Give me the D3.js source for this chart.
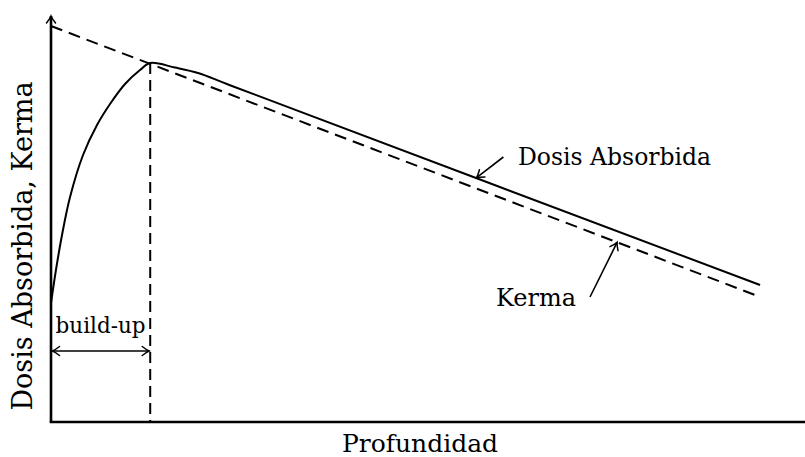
<!DOCTYPE html>
<html>
<head>
<meta charset="utf-8">
<script src="https://cdn.jsdelivr.net/npm/d3@7"></script>
<style>
  html, body { margin: 0; padding: 0; background: #fff; }
  svg { display: block; }
  text { font-family: "DejaVu Serif", "Liberation Serif", serif; fill: #000; }
</style>
</head>
<body>
<svg id="chart" width="805" height="457"></svg>
<script>
// Depth (arbitrary units) and relative dose / kerma values
const doseDepth = [0, 0.05, 0.111, 0.192, 0.323, 0.464, 0.595, 0.746, 0.897, 1.0, 1.25, 1.482, 1.804, 7.147];
const doseValue = [29.75, 38, 46.75, 56.25, 66.75, 74.25, 79.5, 84.5, 88, 89.75, 88.6, 87.25, 84.2, 34.25];
const kermaDepth = [0, 7.15];
const kermaValue = [99, 31.25];

// Depth of maximum dose (end of build-up region)
const buildUpDepth = 1.0;
const buildUpPeak = 89.75;

// Annotation anchors: [depth, value]
const doseArrow = { from: [4.56, 66.25], to: [4.29, 61.1] };
const kermaArrow = { from: [5.433, 31.25], to: [5.706, 44.9] };
const doseLabel = { text: "Dosis Absorbida", at: [4.707, 64.25] };
const kermaLabel = { text: "Kerma", at: [4.486, 29] };
const buildUpLabel = { text: "build-up", level: 17.75, textLevel: 22.25 };
const xTitle = "Profundidad";
const yTitle = "Dosis Absorbida, Kerma";

const svg = d3.select("#chart");
const x = d3.scaleLinear().domain([0, 7.6]).range([51, 805]);
const y = d3.scaleLinear().domain([0, 100]).range([422, 22]);

// Arrowhead in the style of a thin open "to" tip
const defs = svg.append("defs");
defs.append("marker")
  .attr("id", "tip")
  .attr("viewBox", "-10 -6 12 12")
  .attr("refX", 0).attr("refY", 0)
  .attr("markerUnits", "userSpaceOnUse")
  .attr("markerWidth", 12).attr("markerHeight", 12)
  .attr("orient", "auto-start-reverse")
  .append("path")
  .attr("d", "M-7,-4.5 Q-2.5,-1 0,0 Q-2.5,1 -7,4.5")
  .attr("fill", "none").attr("stroke", "#000").attr("stroke-width", 1.5)
  .attr("stroke-linecap", "round");

// Axes
svg.append("line")
  .attr("x1", x(0)).attr("y1", y(0)).attr("x2", x(0)).attr("y2", y(101.5))
  .attr("stroke", "#000").attr("stroke-width", 2.6)
  .attr("marker-end", "url(#tip)");
svg.append("line")
  .attr("x1", x(0) - 1.3).attr("y1", y(0)).attr("x2", x(7.7)).attr("y2", y(0))
  .attr("stroke", "#000").attr("stroke-width", 2.6)
  .attr("marker-end", "url(#tip)");

// Kerma (dashed straight line)
svg.append("path")
  .datum(kermaDepth.map((d, i) => [d, kermaValue[i]]))
  .attr("d", d3.line().x(d => x(d[0])).y(d => y(d[1])))
  .attr("fill", "none").attr("stroke", "#000").attr("stroke-width", 2)
  .attr("stroke-dasharray", "12,7");

// Absorbed dose curve
svg.append("path")
  .datum(doseDepth.map((d, i) => [d, doseValue[i]]))
  .attr("d", d3.line().x(d => x(d[0])).y(d => y(d[1])).curve(d3.curveCatmullRom.alpha(0.5)))
  .attr("fill", "none").attr("stroke", "#000").attr("stroke-width", 2);

// Dashed vertical line at the dose maximum
svg.append("line")
  .attr("x1", x(buildUpDepth)).attr("x2", x(buildUpDepth))
  .attr("y1", y(buildUpPeak)).attr("y2", y(0))
  .attr("stroke", "#000").attr("stroke-width", 2)
  .attr("stroke-dasharray", "11,6");

// Build-up double arrow
svg.append("line")
  .attr("x1", x(0) + 1.5).attr("x2", x(buildUpDepth) - 1)
  .attr("y1", y(buildUpLabel.level)).attr("y2", y(buildUpLabel.level))
  .attr("stroke", "#000").attr("stroke-width", 1.4)
  .attr("marker-start", "url(#tip)").attr("marker-end", "url(#tip)");
svg.append("text")
  .attr("x", x(buildUpDepth / 2)).attr("y", y(buildUpLabel.textLevel))
  .attr("text-anchor", "middle").attr("font-size", 21.5)
  .text(buildUpLabel.text);

// Annotation arrows
for (const a of [doseArrow, kermaArrow]) {
  svg.append("line")
    .attr("x1", x(a.from[0])).attr("y1", y(a.from[1]))
    .attr("x2", x(a.to[0])).attr("y2", y(a.to[1]))
    .attr("stroke", "#000").attr("stroke-width", 1.6)
    .attr("marker-end", "url(#tip)");
}
svg.append("text")
  .attr("x", x(doseLabel.at[0])).attr("y", y(doseLabel.at[1]))
  .attr("font-size", 23.5).text(doseLabel.text);
svg.append("text")
  .attr("x", x(kermaLabel.at[0])).attr("y", y(kermaLabel.at[1]))
  .attr("font-size", 24).text(kermaLabel.text);

// Axis titles
svg.append("text")
  .attr("x", 420).attr("y", 452)
  .attr("text-anchor", "middle").attr("font-size", 25)
  .text(xTitle);
svg.append("text")
  .attr("transform", "translate(32,246) rotate(-90)")
  .attr("text-anchor", "middle").attr("font-size", 27)
  .text(yTitle);
</script>
</body>
</html>
